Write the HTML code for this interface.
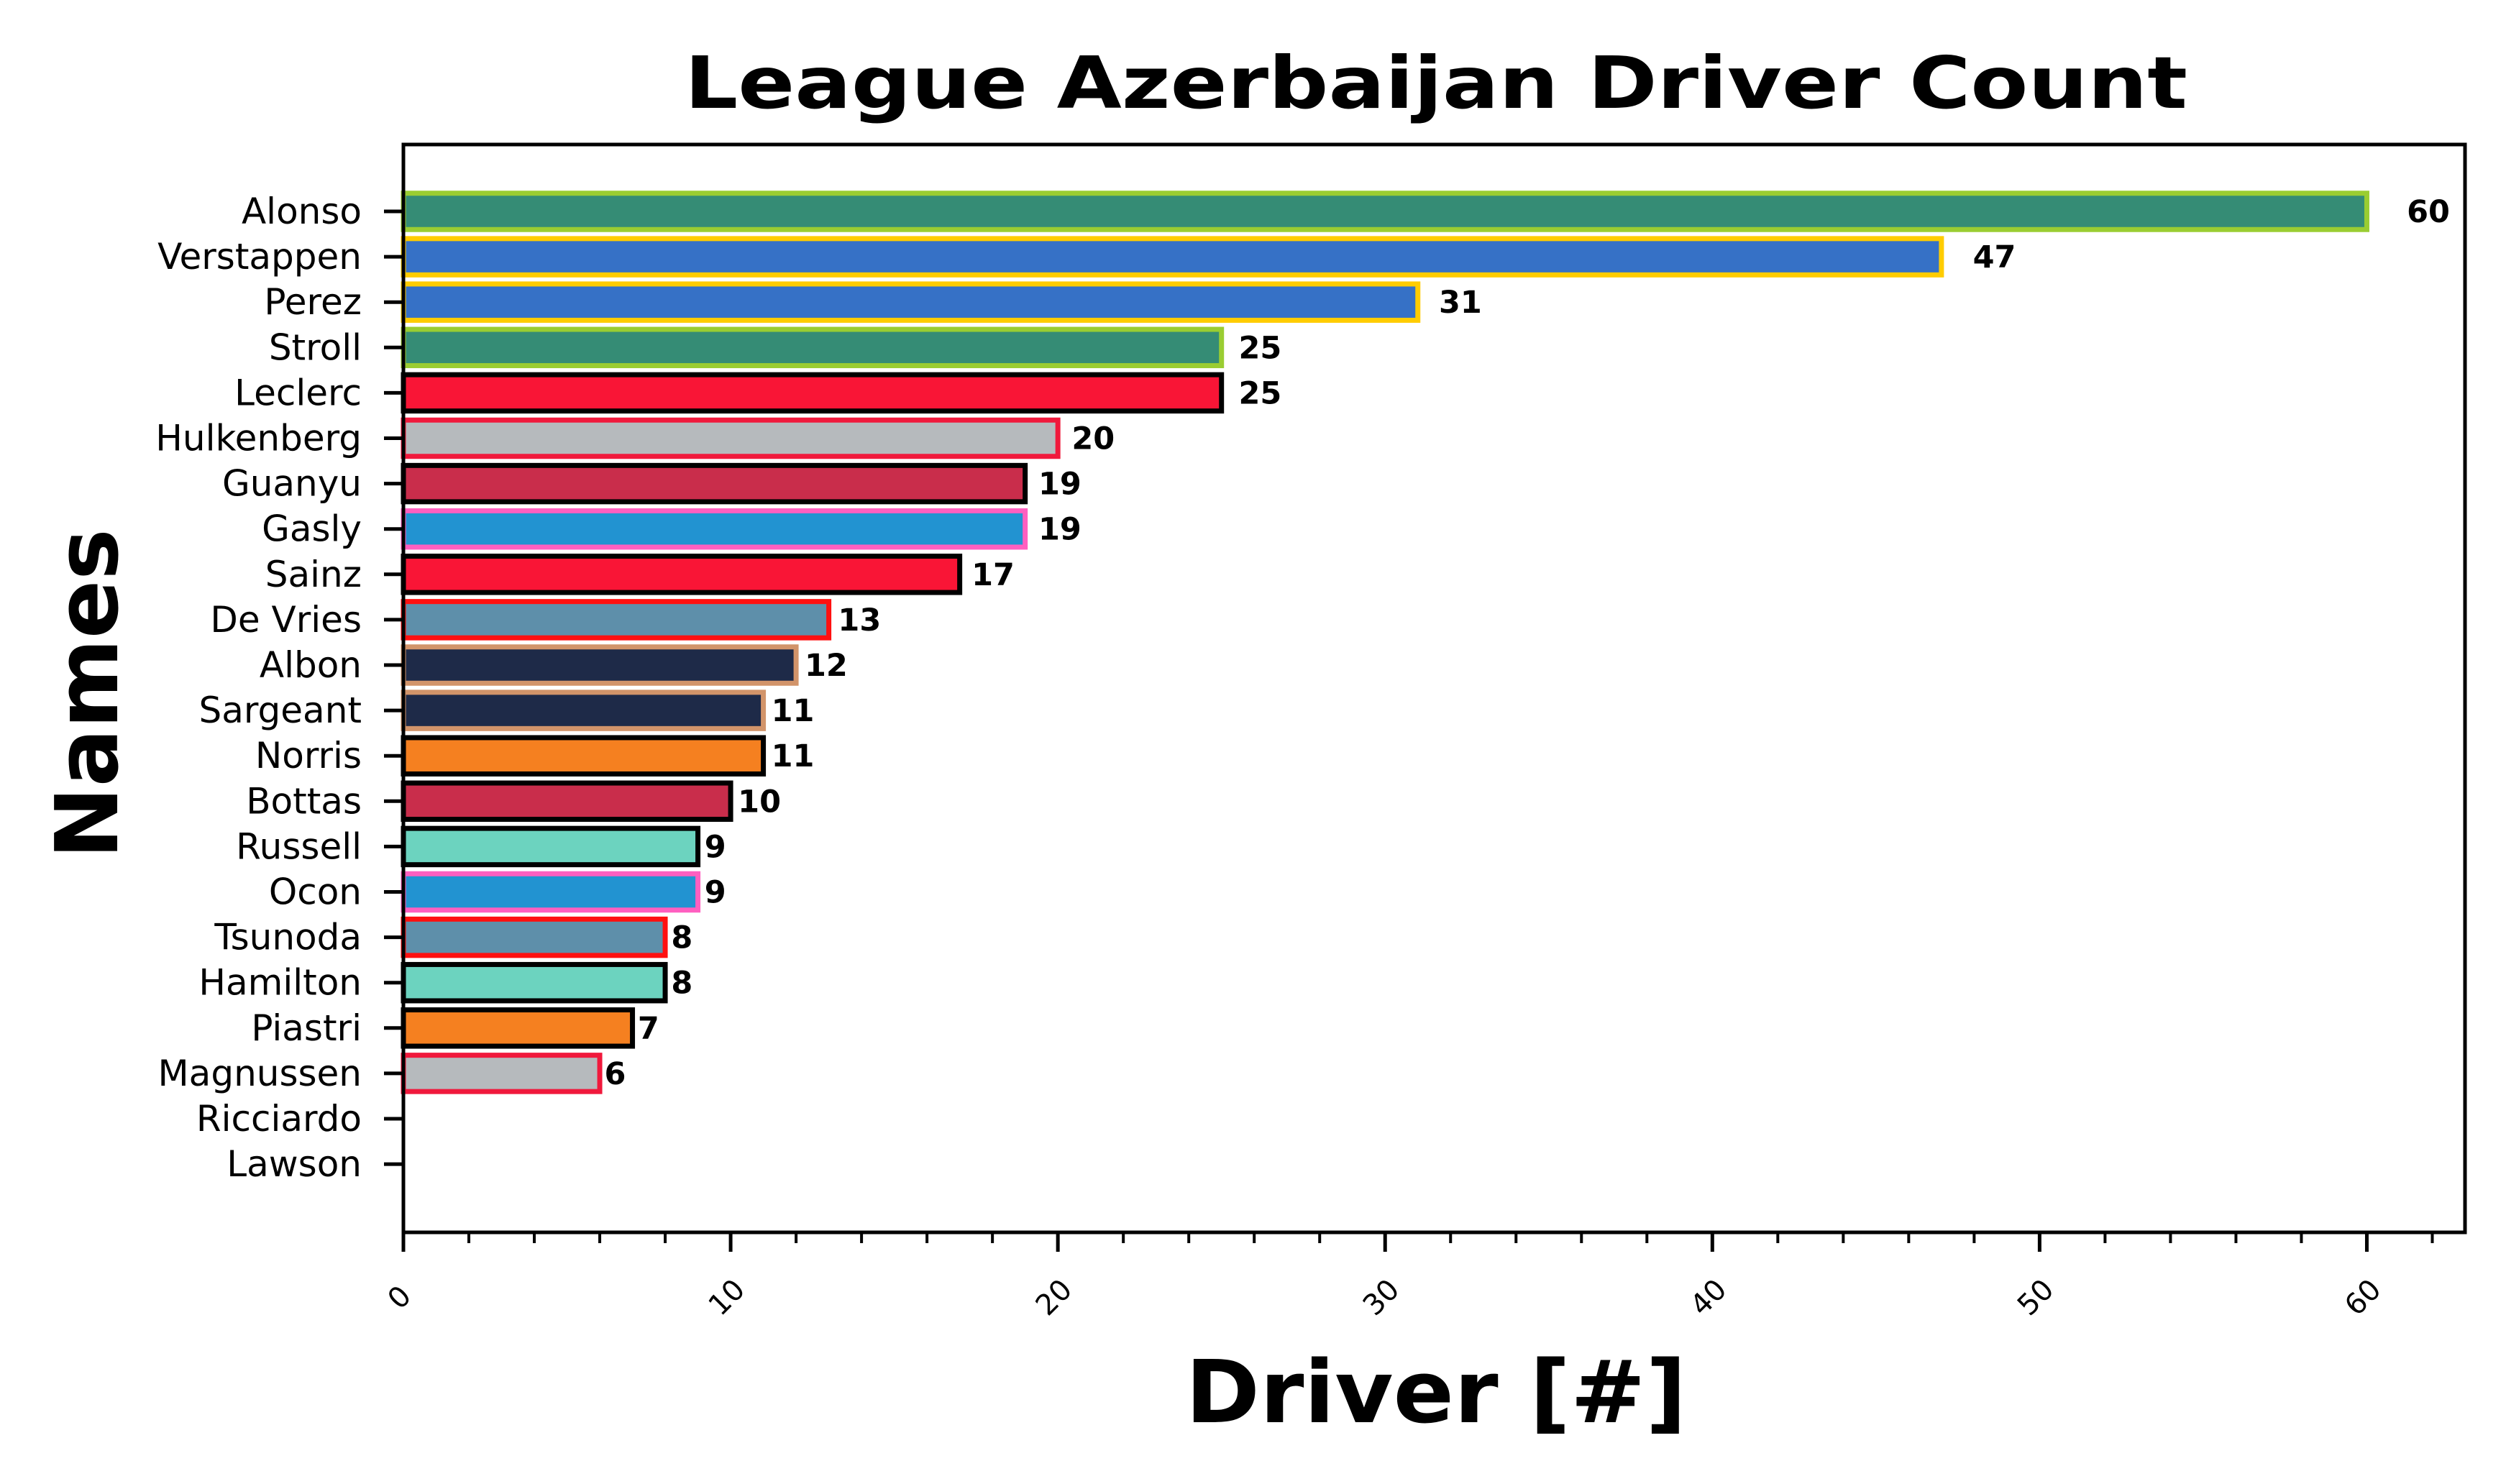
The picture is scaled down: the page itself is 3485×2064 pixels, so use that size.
<!DOCTYPE html>
<html><head><meta charset="utf-8"><style>
html,body{margin:0;padding:0;background:#fff;}
svg{display:block;font-family:"DejaVu Sans","Liberation Sans",sans-serif;}
</style></head><body>
<svg id="chart" width="3485" height="2064" viewBox="0 0 3485 2064" xmlns="http://www.w3.org/2000/svg">
<rect x="0" y="0" width="3485" height="2064" fill="#fff"/>
<text x="1997" y="150" font-size="100" font-weight="bold" text-anchor="middle" textLength="2090" lengthAdjust="spacingAndGlyphs">League Azerbaijan Driver Count</text>
<g id="plot"></g>
<text x="1997" y="1978" font-size="120" font-weight="bold" text-anchor="middle" textLength="697" lengthAdjust="spacingAndGlyphs">Driver [#]</text>
<text transform="translate(163,965) rotate(-90)" x="0" y="0" font-size="120" font-weight="bold" text-anchor="middle">Names</text>
</svg>
<script>
const names = ["Alonso","Verstappen","Perez","Stroll","Leclerc","Hulkenberg","Guanyu","Gasly","Sainz","De Vries","Albon","Sargeant","Norris","Bottas","Russell","Ocon","Tsunoda","Hamilton","Piastri","Magnussen","Ricciardo","Lawson"];
const values = [60,47,31,25,25,20,19,19,17,13,12,11,11,10,9,9,8,8,7,6,0,0];
const fills = ["#358C75","#3671C6","#3671C6","#358C75","#F91536","#B6BABD","#C92D4B","#2293D1","#F91536","#5E8FAA","#1E2A48","#1E2A48","#F58020","#C92D4B","#6CD3BF","#2293D1","#5E8FAA","#6CD3BF","#F58020","#B6BABD","#FFFFFF","#FFFFFF"];
const edges = ["#9ACD32","#FFCC00","#FFCC00","#9ACD32","#000000","#F0193C","#000000","#FF5FC0","#000000","#FF1010","#D2946A","#D2946A","#000000","#000000","#000000","#FF5FC0","#FF1010","#000000","#000000","#F0193C","#F0193C","#000000"];
const xTicks = [0,10,20,30,40,50,60];
const xMinor = [2,4,6,8,12,14,16,18,22,24,26,28,32,34,36,38,42,44,46,48,52,54,56,58,62];

const NS = "http://www.w3.org/2000/svg";
const L = 561, R = 3428, T = 201, B = 1714, XMAX = 63;
const Y0 = 294, STEP = 63.1, BH = 50.5;
function xs(v){ return L + v * (R - L) / XMAX; }
function ys(i){ return Y0 + i * STEP; }
const plot = document.getElementById('plot');
function mk(tag, attrs){ const e = document.createElementNS(NS, tag); for (const k in attrs) e.setAttribute(k, attrs[k]); plot.appendChild(e); return e; }

names.forEach((n, i) => {
  const v = values[i];
  const cy = ys(i);
  if (v > 0) {
    const r = mk('rect', {x: xs(0), y: cy - BH/2, width: xs(v) - xs(0), height: BH, fill: fills[i], stroke: edges[i], 'stroke-width': 7});
    
    
  } else {
    const r = mk('line', {x1: xs(0), y1: cy - BH/2, x2: xs(0), y2: cy + BH/2, stroke: edges[i], 'stroke-width': 4});
    
    
    return;
  }
  const t = mk('text', {x: xs(v * 1.02) + 1, y: cy + 15, 'font-size': 43, 'font-weight': 'bold'});
  t.textContent = v;
  
  
});

names.forEach((n, i) => {
  const cy = ys(i);
  const tk = mk('line', {x1: L - 27, y1: cy, x2: L, y2: cy, stroke: '#000', 'stroke-width': 5});
  
  
  const t = mk('text', {x: L - 58, y: cy + 17, 'font-size': 50, 'text-anchor': 'end'});
  t.textContent = n;
  
  
});

xTicks.forEach(v => {
  const x = xs(v);
  const tk = mk('line', {x1: x, y1: B, x2: x, y2: B + 27, stroke: '#000', 'stroke-width': 5});
  
  
  const t = mk('text', {x: 0, y: 0, 'font-size': 40, 'text-anchor': 'middle', transform: 'translate(' + (x + 4) + ',' + (B + 100) + ') rotate(-45)'});
  t.textContent = v;
  
  
});
xMinor.forEach(v => {
  const x = xs(v);
  const tk = mk('line', {x1: x, y1: B, x2: x, y2: B + 15, stroke: '#000', 'stroke-width': 4});
  
  
});

const frame = mk('rect', {x: L, y: T, width: R - L, height: B - T, fill: 'none', stroke: '#000', 'stroke-width': 5});


</script>
</body></html>
